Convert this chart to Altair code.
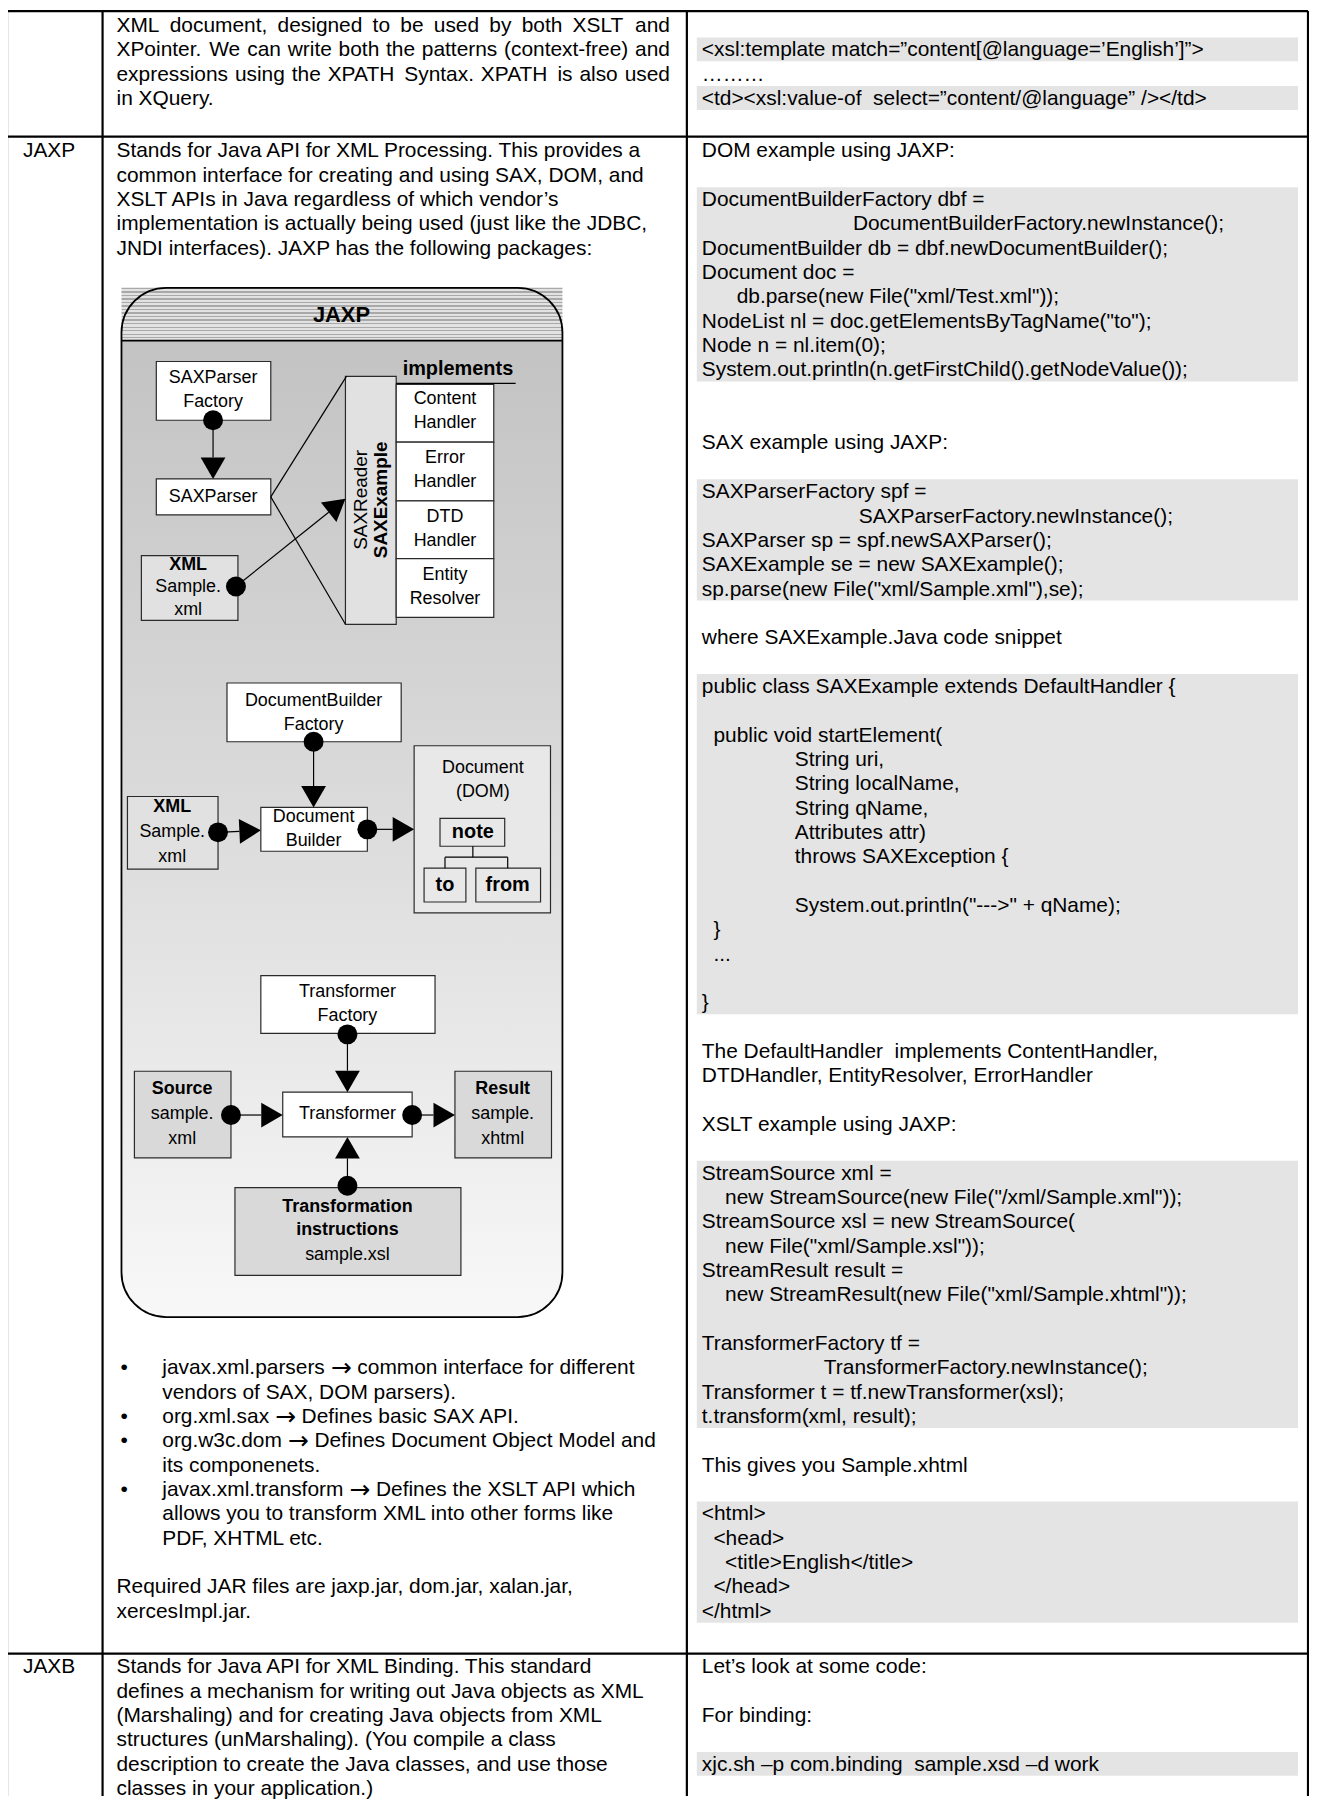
import math
import altair as alt
import pandas as pd

NB = "\u00a0"
FONT = "Liberation Sans, DejaVu Sans"
ARROW_FONT = "DejaVu Sans"
ARROW = "→"

# ------------------------------------------------------------------ table text
row_labels = ["JAXP", "JAXB"]

top_left_text = [
    "XML document, designed to be used by both XSLT and",
    "XPointer. We can write both the patterns (context-free) and",
    "expressions using the XPATH Syntax. XPATH is also used",
    "in XQuery.",
]
top_left_justified = [True, True, True, False]
top_right_text = [
    "<xsl:template match=”content[@language=’English’]”>",
    "………",
    "<td><xsl:value-of" + NB + " select=”content/@language” /></td>",
]
top_right_slots = [1, 2, 3]
top_right_bars = [(1, 1), (3, 3)]

jaxp_left_text = [
    "Stands for Java API for XML Processing. This provides a",
    "common interface for creating and using SAX, DOM, and",
    "XSLT APIs in Java regardless of which vendor’s",
    "implementation is actually being used (just like the JDBC,",
    "JNDI interfaces). JAXP has the following packages:",
]
# each bullet: (package, description of first line), continuation lines
jaxp_bullets = [
    (("javax.xml.parsers", "common interface for different"), ["vendors of SAX, DOM parsers)."]),
    (("org.xml.sax", "Defines basic SAX API."), []),
    (("org.w3c.dom", "Defines Document Object Model and"), ["its componenets."]),
    (("javax.xml.transform", "Defines the XSLT API which"),
     ["allows you to transform XML into other forms like", "PDF, XHTML etc."]),
]
jaxp_note = ["Required JAR files are jaxp.jar, dom.jar, xalan.jar,", "xercesImpl.jar."]

# (line slot, indent in spaces, text)
jaxp_right = [
    (0, 0, "DOM example using JAXP:"),
    (2, 0, "DocumentBuilderFactory dbf ="),
    (3, 26, "DocumentBuilderFactory.newInstance();"),
    (4, 0, "DocumentBuilder db = dbf.newDocumentBuilder();"),
    (5, 0, "Document doc ="),
    (6, 6, 'db.parse(new File("xml/Test.xml"));'),
    (7, 0, 'NodeList nl = doc.getElementsByTagName("to");'),
    (8, 0, "Node n = nl.item(0);"),
    (9, 0, "System.out.println(n.getFirstChild().getNodeValue());"),
    (12, 0, "SAX example using JAXP:"),
    (14, 0, "SAXParserFactory spf ="),
    (15, 27, "SAXParserFactory.newInstance();"),
    (16, 0, "SAXParser sp = spf.newSAXParser();"),
    (17, 0, "SAXExample se = new SAXExample();"),
    (18, 0, 'sp.parse(new File("xml/Sample.xml"),se);'),
    (20, 0, "where SAXExample.Java code snippet"),
    (22, 0, "public class SAXExample extends DefaultHandler {"),
    (24, 2, "public void startElement("),
    (25, 16, "String uri,"),
    (26, 16, "String localName,"),
    (27, 16, "String qName,"),
    (28, 16, "Attributes attr)"),
    (29, 16, "throws SAXException {"),
    (31, 16, 'System.out.println("--->" + qName);'),
    (32, 2, "}"),
    (33, 2, "..."),
    (35, 0, "}"),
    (37, 0, "The DefaultHandler" + NB + " implements ContentHandler,"),
    (38, 0, "DTDHandler, EntityResolver, ErrorHandler"),
    (40, 0, "XSLT example using JAXP:"),
    (42, 0, "StreamSource xml ="),
    (43, 4, 'new StreamSource(new File("/xml/Sample.xml"));'),
    (44, 0, "StreamSource xsl = new StreamSource("),
    (45, 4, 'new File("xml/Sample.xsl"));'),
    (46, 0, "StreamResult result ="),
    (47, 4, 'new StreamResult(new File("xml/Sample.xhtml"));'),
    (49, 0, "TransformerFactory tf ="),
    (50, 21, "TransformerFactory.newInstance();"),
    (51, 0, "Transformer t = tf.newTransformer(xsl);"),
    (52, 0, "t.transform(xml, result);"),
    (54, 0, "This gives you Sample.xhtml"),
    (56, 0, "<html>"),
    (57, 2, "<head>"),
    (58, 4, "<title>English</title>"),
    (59, 2, "</head>"),
    (60, 0, "</html>"),
]
jaxp_right_bars = [(2, 9), (14, 18), (22, 35), (42, 52), (56, 60)]

jaxb_left_text = [
    "Stands for Java API for XML Binding. This standard",
    "defines a mechanism for writing out Java objects as XML",
    "(Marshaling) and for creating Java objects from XML",
    "structures (unMarshaling). (You compile a class",
    "description to create the Java classes, and use those",
    "classes in your application.)",
]
jaxb_right = [
    (0, 0, "Let’s look at some code:"),
    (2, 0, "For binding:"),
    (4, 0, "xjc.sh –p com.binding" + NB + " sample.xsd –d work"),
]
jaxb_right_bars = [(4, 4)]

# ------------------------------------------------------------------ diagram content
diagram_title = "JAXP"
boxes = [  # label, x1, x2, y1, y2, fill kind
    ("SAXParser Factory", 157, 272, 359, 418, "white"),
    ("SAXParser", 157, 272, 477, 513, "white"),
    ("XML 1", 142, 239, 554, 619, "light"),
    ("SAXReader", 347, 398, 374, 623, "light"),
    ("Content Handler", 398, 496, 382, 440, "white"),
    ("Error Handler", 398, 496, 440, 499, "white"),
    ("DTD Handler", 398, 496, 499, 557, "white"),
    ("Entity Resolver", 398, 496, 557, 616, "white"),
    ("DocumentBuilder Factory", 228, 403, 682, 741, "white"),
    ("XML 2", 128, 219, 796, 869, "light"),
    ("Document Builder", 262, 369, 807, 851, "white"),
    ("Document (DOM)", 416, 553, 745, 913, "pale"),
    ("note", 442, 507, 818, 846, "pale"),
    ("to", 426, 468, 868, 902, "pale"),
    ("from", 478, 543, 868, 902, "pale"),
    ("Transformer Factory", 262, 437, 976, 1034, "white"),
    ("Source", 135, 232, 1072, 1159, "mid"),
    ("Transformer", 284, 414, 1093, 1138, "white"),
    ("Result", 457, 554, 1072, 1159, "mid"),
    ("Transformation instructions", 236, 463, 1189, 1277, "mid"),
]
fill_kinds = {"white": "#ffffff", "light": "#e1e1e1", "pale": "#e8e8e8", "mid": "#d9d9d9"}

plain_links = [  # x1, y1, x2, y2
    (272, 495, 348, 374),
    (272, 495, 347, 623),
    (398, 381, 518, 381),
    (475, 846, 475, 857),
    (447, 857, 510, 857),
    (447, 857, 447, 868),
    (510, 857, 510, 868),
]
arrows = [  # from (circle) -> tip
    (214, 418, 214, 477),
    (237, 585, 347, 497),
    (315, 741, 315, 807),
    (219, 832, 262, 830),
    (369, 829, 416, 829),
    (349, 1035, 349, 1093),
    (232, 1116, 284, 1116),
    (414, 1116, 457, 1116),
    (349, 1187, 349, 1138),
]
labels_regular = [
    ("SAXParser", 214, 376), ("Factory", 214, 400),
    ("SAXParser", 214, 495),
    ("Sample.", 189, 586), ("xml", 189, 609),
    ("Content", 447, 397), ("Handler", 447, 421),
    ("Error", 447, 456), ("Handler", 447, 480),
    ("DTD", 447, 515), ("Handler", 447, 539),
    ("Entity", 447, 574), ("Resolver", 447, 598),
    ("DocumentBuilder", 315, 700), ("Factory", 315, 724),
    ("Sample.", 173, 832), ("xml", 173, 857),
    ("Document", 315, 817), ("Builder", 315, 841),
    ("Document", 485, 767), ("(DOM)", 485, 792),
    ("Transformer", 349, 992), ("Factory", 349, 1017),
    ("sample.", 183, 1115), ("xml", 183, 1140),
    ("Transformer", 349, 1115),
    ("sample.", 505, 1115), ("xhtml", 505, 1140),
    ("sample.xsl", 349, 1257),
]
labels_bold = [
    (diagram_title, 343, 312, 22),
    ("implements", 460, 367, 20),
    ("XML", 189, 563, 18),
    ("XML", 173, 807, 18),
    ("note", 475, 832, 20), ("to", 447, 885, 20), ("from", 510, 885, 20),
    ("Source", 183, 1090, 18), ("Result", 505, 1090, 18),
    ("Transformation", 349, 1208, 18), ("instructions", 349, 1232, 18),
]
labels_vertical = [("SAXReader", 363, 498, "normal"), ("SAXExample", 383, 498, "bold")]

# ------------------------------------------------------------------ layout constants
LH = 24.45
FS = 21
ARROW_FS = 25
SPACE_W = 0.278 * FS
TOP_BASE, JAXP_BASE, JAXB_BASE = 22, 148, 1671
X_LABEL, X_MID, X_BULLET, X_BULLET_TEXT, X_RIGHT = 23, 117, 121, 163, 705
X_MID_RIGHT_EDGE = 673
BAR_X1, BAR_X2 = 700, 1304
V_LINES = [7, 103, 690, 1314]
H_LINES = [7, 133, 1657]
DIAG = (122, 565, 285, 338, 1319)  # x1, x2, top, header bottom, bottom
PAGE_BOTTOM = 1800

# Arial / Liberation Sans advance widths (1/1000 em), used to justify / split lines
AW = dict(zip("abcdefghijklmnopqrstuvwxyz",
              [556, 556, 500, 556, 556, 278, 556, 556, 222, 222, 500, 222, 833,
               556, 556, 556, 556, 333, 500, 278, 556, 500, 722, 500, 500, 500]))
AW.update(zip("ABCDEFGHIJKLMNOPQRSTUVWXYZ",
              [667, 667, 722, 722, 667, 611, 778, 722, 278, 500, 667, 556, 833,
               722, 778, 667, 778, 722, 667, 611, 722, 667, 944, 667, 667, 611]))
AW.update({" ": 278, ",": 278, ".": 278, "(": 333, ")": 333, "-": 333})
ARROW_ADV = 0.838  # DejaVu Sans arrow advance (em)


def text_width(s, fs):
    return sum(AW.get(ch, 556) for ch in s) * fs / 1000.0


XS = alt.Scale(domain=[8, 1315], nice=False, zero=False)
YS = alt.Scale(domain=[8, PAGE_BOTTOM], nice=False, zero=False, reverse=True)


def ex(f="x"):
    return alt.X(f"{f}:Q", scale=XS, axis=None)


def ey(f="y"):
    return alt.Y(f"{f}:Q", scale=YS, axis=None)


# ------------------------------------------------------------------ build tables
text_rows = []
arrow_rows = []


def add_line(t, y, x):
    text_rows.append({"x": x, "y": y, "t": t, "fs": FS})


for i, (t, just) in enumerate(zip(top_left_text, top_left_justified)):
    y = TOP_BASE + i * LH
    if not just:
        add_line(t, y, X_MID)
        continue
    words = t.split(" ")
    widths = [text_width(w, FS) for w in words]
    gap = (X_MID_RIGHT_EDGE - X_MID - sum(widths)) / (len(words) - 1)
    x = X_MID
    for w, wd in zip(words, widths):
        add_line(w, y, x)
        x += wd + gap

for t, s in zip(top_right_text, top_right_slots):
    add_line(t, TOP_BASE + s * LH, X_RIGHT)
add_line(row_labels[0], JAXP_BASE, X_LABEL)
add_line(row_labels[1], JAXB_BASE, X_LABEL)
for i, t in enumerate(jaxp_left_text):
    add_line(t, JAXP_BASE + i * LH, X_MID)
slot = 50
for (pkg, desc), more in jaxp_bullets:
    y = JAXP_BASE + slot * LH
    add_line("•", y, X_BULLET)
    add_line(pkg, y, X_BULLET_TEXT)
    ax = X_BULLET_TEXT + text_width(pkg + " ", FS)
    arrow_rows.append({"x": ax, "y": y, "t": ARROW})
    add_line(desc, y, ax + ARROW_ADV * ARROW_FS + SPACE_W)
    for j, t in enumerate(more):
        add_line(t, JAXP_BASE + (slot + 1 + j) * LH, X_BULLET_TEXT)
    slot += 1 + len(more)
for j, t in enumerate(jaxp_note):
    add_line(t, JAXP_BASE + (slot + 1 + j) * LH, X_MID)
for s, ind, t in jaxp_right:
    add_line(t, JAXP_BASE + s * LH, X_RIGHT + ind * SPACE_W)
for i, t in enumerate(jaxb_left_text):
    add_line(t, JAXB_BASE + i * LH, X_MID)
for s, ind, t in jaxb_right:
    add_line(t, JAXB_BASE + s * LH, X_RIGHT + ind * SPACE_W)
text_df = pd.DataFrame(text_rows)
arrow_df = pd.DataFrame(arrow_rows)

bar_rows = []
for base, bars in [(TOP_BASE, top_right_bars), (JAXP_BASE, jaxp_right_bars), (JAXB_BASE, jaxb_right_bars)]:
    for a, b in bars:
        bar_rows.append({"x": BAR_X1, "x2": BAR_X2, "y": base + a * LH - 13, "y2": base + b * LH + 11})
bar_df = pd.DataFrame(bar_rows)

grid_rows = [{"x": v, "x2": v, "y": 7, "y2": PAGE_BOTTOM} for v in V_LINES]
grid_rows += [{"x": 7, "x2": 1314, "y": h, "y2": h} for h in H_LINES]
grid_df = pd.DataFrame(grid_rows)

# ------------------------------------------------------------------ diagram tables
dx1, dx2, dtop, dhead, dbot = DIAG
box_df = pd.DataFrame([{"x": a, "x2": b, "y": c, "y2": d, "c": fill_kinds[k]} for _, a, b, c, d, k in boxes])

ARROW_SIZE = 620
half_len = math.sqrt(3) / 2 * math.sqrt(ARROW_SIZE) / 2
link_rows = [{"x": a, "y": b, "x2": c, "y2": d} for a, b, c, d in plain_links]
tri_rows, dot_rows = [], []
for fx, fy, tx, ty in arrows:
    L = math.hypot(tx - fx, ty - fy)
    ux, uy = (tx - fx) / L, (ty - fy) / L
    link_rows.append({"x": fx, "y": fy, "x2": tx - 2 * half_len * ux, "y2": ty - 2 * half_len * uy})
    ang = math.degrees(math.atan2(ux, -uy)) % 360
    tri_rows.append({"x": tx - half_len * ux, "y": ty - half_len * uy, "a": ang})
    dot_rows.append({"x": fx, "y": fy})
link_df = pd.DataFrame(link_rows)
tri_df = pd.DataFrame(tri_rows)
dot_df = pd.DataFrame(dot_rows)

reg_df = pd.DataFrame([{"x": x, "y": y, "t": t} for t, x, y in labels_regular])
bold_df = pd.DataFrame([{"x": x, "y": y, "t": t, "fs": s} for t, x, y, s in labels_bold])
vreg_df = pd.DataFrame([{"x": x, "y": y, "t": t} for t, x, y, w in labels_vertical if w == "normal"])
vbold_df = pd.DataFrame([{"x": x, "y": y, "t": t} for t, x, y, w in labels_vertical if w == "bold"])

body_df = pd.DataFrame([{"x": dx1, "x2": dx2, "y": dhead, "y2": dbot}])
head_df = pd.DataFrame([{"x": dx1, "x2": dx2, "y": dtop, "y2": dhead}])
outline_df = pd.DataFrame([{"x": dx1, "x2": dx2, "y": dtop, "y2": dbot}])
sep_df = pd.DataFrame([{"x": dx1, "x2": dx2, "y": dhead, "y2": dhead}])


# ------------------------------------------------------------------ charts
def rect_enc(ch):
    return ch.encode(x=ex(), x2="x2:Q", y=ey(), y2="y2:Q")


bars = rect_enc(alt.Chart(bar_df).mark_rect(color="#e4e4e4"))
grid = alt.Chart(grid_df).mark_rule(color="black", strokeWidth=2.2).encode(x=ex(), x2="x2:Q", y=ey(), y2="y2:Q")

body = rect_enc(alt.Chart(body_df).mark_rect(
    cornerRadiusBottomLeft=45, cornerRadiusBottomRight=45,
    fill=alt.Gradient(gradient="linear", x1=0, y1=0, x2=0, y2=1, stops=[
        alt.GradientStop(offset=0, color="#c3c3c3"),
        alt.GradientStop(offset=0.5, color="#dcdcdc"),
        alt.GradientStop(offset=1, color="#f8f8f8"),
    ])))

n_stripes = 15
stops = []
for i in range(n_stripes):
    a, b, c = i / n_stripes, (i + 0.4) / n_stripes, (i + 1) / n_stripes
    stops += [alt.GradientStop(offset=a, color="#a9a9a9"), alt.GradientStop(offset=b, color="#a9a9a9"),
              alt.GradientStop(offset=b, color="#e2e2e2"), alt.GradientStop(offset=c, color="#e2e2e2")]
head = rect_enc(alt.Chart(head_df).mark_rect(
    fill=alt.Gradient(gradient="linear", x1=0, y1=0, x2=0, y2=1, stops=stops)))
outline = rect_enc(alt.Chart(outline_df).mark_rect(
    cornerRadius=45, fillOpacity=0, stroke="black", strokeWidth=1.8))
sep = alt.Chart(sep_df).mark_rule(color="black", strokeWidth=1.6).encode(x=ex(), x2="x2:Q", y=ey(), y2="y2:Q")

box_layer = rect_enc(alt.Chart(box_df).mark_rect(stroke="#2a2a2a", strokeWidth=1.2)).encode(
    fill=alt.Fill("c:N", scale=None))
links = alt.Chart(link_df).mark_rule(color="black", strokeWidth=1.2).encode(
    x=ex(), x2="x2:Q", y=ey(), y2="y2:Q")
tris = alt.Chart(tri_df).mark_point(shape="triangle-up", filled=True, color="black", opacity=1,
                                    size=ARROW_SIZE).encode(
    x=ex(), y=ey(), angle=alt.Angle("a:Q", scale=None))
dots = alt.Chart(dot_df).mark_circle(color="black", opacity=1, size=400).encode(x=ex(), y=ey())

main_text = alt.Chart(text_df).mark_text(align="left", baseline="middle", font=FONT, color="black").encode(
    x=ex(), y=ey(), text="t:N", size=alt.Size("fs:Q", scale=None))
arrow_text = alt.Chart(arrow_df).mark_text(align="left", baseline="middle", font=ARROW_FONT,
                                           fontSize=ARROW_FS, color="black").encode(
    x=ex(), y=ey(), text="t:N")
reg_text = alt.Chart(reg_df).mark_text(align="center", baseline="middle", font=FONT, fontSize=18,
                                       color="black").encode(x=ex(), y=ey(), text="t:N")
bold_text = alt.Chart(bold_df).mark_text(align="center", baseline="middle", font=FONT, fontWeight="bold",
                                         color="black").encode(
    x=ex(), y=ey(), text="t:N", size=alt.Size("fs:Q", scale=None))
vreg_text = alt.Chart(vreg_df).mark_text(align="center", baseline="middle", font=FONT, fontSize=19,
                                         angle=270, color="black").encode(x=ex(), y=ey(), text="t:N")
vbold_text = alt.Chart(vbold_df).mark_text(align="center", baseline="middle", font=FONT, fontSize=19,
                                           fontWeight="bold", angle=270, color="black").encode(
    x=ex(), y=ey(), text="t:N")

chart = alt.layer(
    bars, body, head, outline, sep, box_layer, links, tris,
    main_text, arrow_text, reg_text, bold_text, vreg_text, vbold_text, dots, grid,
).properties(
    width=1307, height=PAGE_BOTTOM - 8, padding=0, autosize=alt.AutoSizeParams(type="none"),
    background="white",
).configure_view(strokeWidth=0)

chart.save("out.html", embed_options={"renderer": "svg", "actions": False})
